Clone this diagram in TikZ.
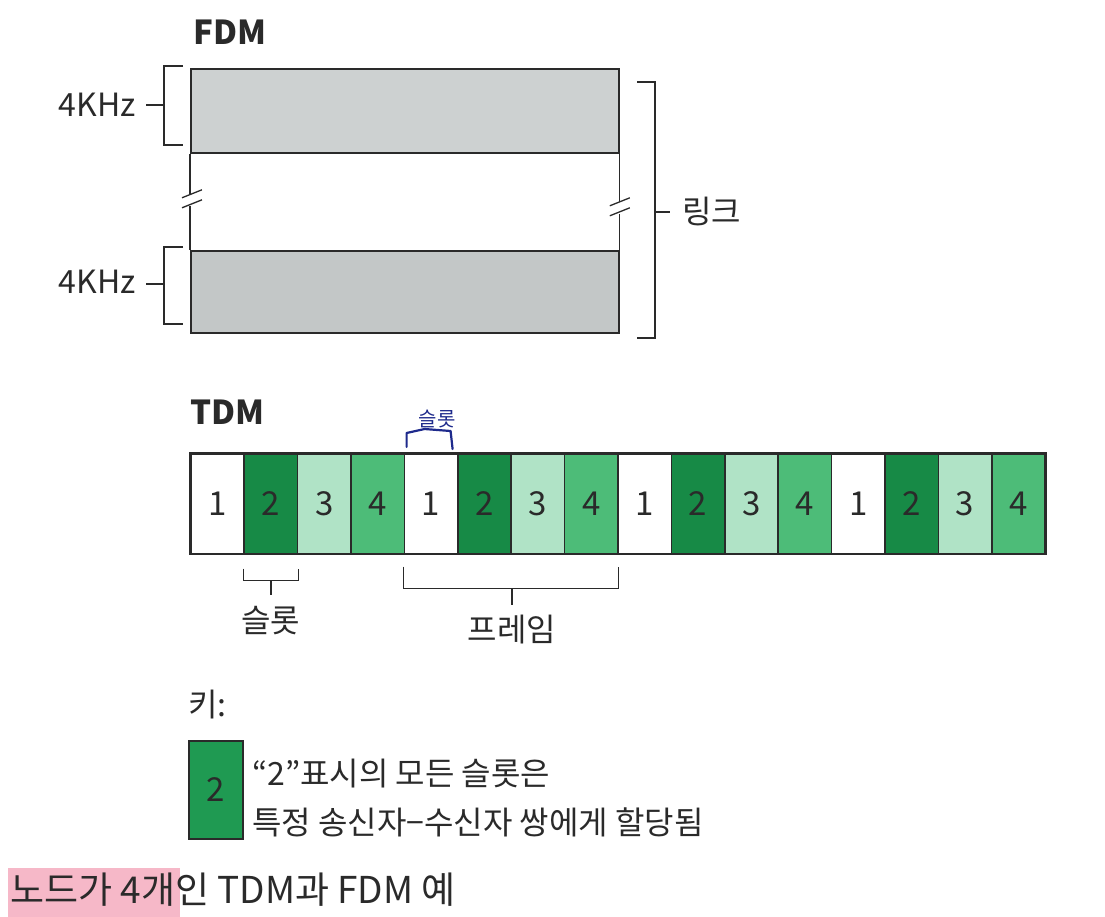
\documentclass[tikz,border=0pt]{standalone}
\usepackage{fontspec}
\setmainfont{Noto Sans CJK KR}
\usetikzlibrary{calc}
\definecolor{bandA}{HTML}{CDD1D1}
\definecolor{bandB}{HTML}{C3C7C7}
\definecolor{gTwo}{HTML}{178A46}
\definecolor{gThree}{HTML}{B0E3C6}
\definecolor{gFour}{HTML}{4DBC78}
\definecolor{gKey}{HTML}{1F9A52}
\definecolor{ink}{HTML}{2A2A2A}
\definecolor{pen}{HTML}{1E2A8C}
\definecolor{hilite}{HTML}{F6B8C8}
\tikzset{
  band/.style={draw=ink, line width=1.8pt},
  brk/.style={draw=ink, line width=1.3pt},
  lbl/.style={font=\fontsize{32}{34}\selectfont, text=ink, inner sep=0pt},
  ttl/.style={font=\bfseries\fontsize{33}{35}\selectfont, text=ink, inner sep=0pt},
  slotbox/.style={draw=ink, line width=1.5pt, minimum width=53.4pt, minimum height=100pt, inner sep=0pt, font=\fontsize{33}{35}\selectfont, text=ink, anchor=north west},
  keytxt/.style={font=\fontsize{32}{34}\selectfont, text=ink, inner sep=0pt, anchor=west}
}
\begin{document}
\begin{tikzpicture}[x=1pt,y=-1pt]
\useasboundingbox (0,0) rectangle (1105,917);
% ---------- FDM ----------
\node[ttl, anchor=west] (fdm) at (193,32) {FDM};
\node[band, fill=bandA, minimum width=428pt, minimum height=84pt, inner sep=0pt, anchor=north west] (bandtop) at (190,68) {};
\node[band, fill=bandB, minimum width=428pt, minimum height=82pt, inner sep=0pt, anchor=north west] (bandbot) at (190,250) {};
% connecting side lines with break marks
\coordinate (lb1) at (bandtop.south west);
\coordinate (lb2) at (bandbot.north west);
\draw[brk] (lb1) -- ++(0,40);
\draw[brk] ($(lb2)+(0,-44)$) -- (lb2);
\draw[brk] ($(lb1)+(-8,44)$) -- ++(20,-8);
\draw[brk] ($(lb1)+(-8,54)$) -- ++(20,-8);
\coordinate (rb1) at (bandtop.south east);
\coordinate (rb2) at (bandbot.north east);
\draw[brk] (rb1) -- ++(0,48);
\draw[brk] ($(rb2)+(0,-36)$) -- (rb2);
\draw[brk] ($(rb1)+(-10,52)$) -- ++(20,-8);
\draw[brk] ($(rb1)+(-10,62)$) -- ++(20,-8);
% left brackets
\draw[brk] (183,66) -- (164,66) -- (164,145) -- (183,145);
\draw[brk] (164,105) -- (146,105);
\node[lbl, anchor=east] (khz1) at (136,105) {4KHz};
\draw[brk] (183,247) -- (164,247) -- (164,324) -- (183,324);
\draw[brk] (164,284) -- (146,284);
\node[lbl, anchor=east] (khz2) at (136,282) {4KHz};
% right bracket
\draw[brk] (637,82) -- (655,82) -- (655,338) -- (637,338);
\draw[brk] (655,212) -- (670,212);
\node[lbl, anchor=west] (link) at (682,212) {링크};
% ---------- TDM ----------
\node[ttl, anchor=west] (tdm) at (190,412) {TDM};
\foreach \i/\c in {1/white,2/gTwo,3/gThree,4/gFour,5/white,6/gTwo,7/gThree,8/gFour,9/white,10/gTwo,11/gThree,12/gFour,13/white,14/gTwo,15/gThree,16/gFour}{
  \pgfmathtruncatemacro{\n}{mod(\i-1,4)+1}
  \node[slotbox, fill=\c] (s\i) at ({190+(\i-1)*53.4},453) {\n};
}
\draw[band, fill=none] (s1.north west) rectangle (s16.south east);
% slot bracket
\draw[brk] ($(s2.south west)+(0,14)$) -- ++(0,12) -- ($(s2.south east)+(0,26)$) -- ++(0,-12);
\draw[brk] ($(s2.south)+(0,26)$) -- ++(0,14) coordinate (slotend);
\node[lbl, anchor=north] (slotlbl) at ($(slotend)+(0,12)$) {슬롯};
% frame bracket
\draw[brk] ($(s5.south west)+(0,12)$) -- ++(0,22) -- ($(s8.south east)+(0,34)$) -- ++(0,-22);
\draw[brk] ($(s6.south east)+(0,34)$) -- ++(0,16) coordinate (frameend);
\node[lbl, anchor=north] (framelbl) at ($(frameend)+(0,10)$) {프레임};
% handwritten annotation
\draw[pen, line width=2.2pt, line cap=round, line join=round] ($(s5.north west)+(3,-6)$) -- ++(0,-14) -- ++(18,-4) -- ++(26,2) -- ++(2,18);
\node[pen, font=\fontsize{20}{20}\selectfont, inner sep=0pt] (handtxt) at ($(s5.north)+(6,-34)$) {슬롯};
% ---------- Key ----------
\node[lbl, anchor=west] (key) at (188,705) {키:};
\node[draw=ink, line width=1.8pt, fill=gKey, minimum width=54pt, minimum height=98pt, inner sep=0pt, anchor=north west, font=\fontsize{33}{35}\selectfont, text=ink] (keybox) at (188,740) {2};
\node[keytxt] (keyl1) at (252,774) {“2”표시의 모든 슬롯은};
\node[keytxt] (keyl2) at (252,822) {특정 송신자−수신자 쌍에게 할당됨};
% ---------- Caption ----------
\fill[hilite] (8,868) rectangle (180,917);
\node[font=\fontsize{37}{39}\selectfont, text=ink, inner sep=0pt, anchor=west] (cap) at (10,890) {노드가 4개인 TDM과 FDM 예};
\end{tikzpicture}
\end{document}
